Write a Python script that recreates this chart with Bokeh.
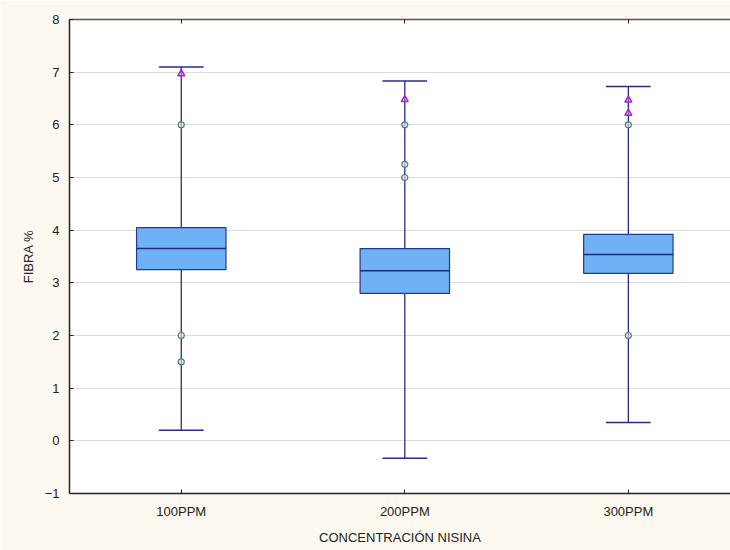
from bokeh.plotting import figure
from bokeh.models import Range1d, FixedTicker, LinearAxis
from bokeh.embed import file_html
from bokeh.resources import INLINE

# Box-plot statistics for fibre content per nisin concentration
categories = ["100PPM", "200PPM", "300PPM"]
whisker_low = [0.20, -0.33, 0.35]
q1 = [3.25, 2.80, 3.18]
median = [3.65, 3.23, 3.54]
q3 = [4.05, 3.65, 3.92]
whisker_high = [7.10, 6.83, 6.73]
outliers = [[6.0, 2.0, 1.5], [6.0, 5.25, 5.0], [6.0, 2.0]]
extremes = [[6.97], [6.48], [6.47, 6.22]]
y_ticks = [-1, 0, 1, 2, 3, 4, 5, 6, 7, 8]

xs = [i + 0.5 for i in range(len(categories))]
box_w = 0.40
cap_w = 0.20

p = figure(width=730, height=550, output_backend="svg", toolbar_location=None,
           x_range=Range1d(0, 2.957), y_range=Range1d(-1, 8),
           min_border_left=69, min_border_right=0, min_border_top=19,
           min_border_bottom=57)
p.background_fill_color = "white"
p.border_fill_color = "#fdf9f0"
p.outline_line_color = None

FONT = "Liberation Sans"

# axes
p.xaxis.ticker = FixedTicker(ticks=xs)
p.xaxis.major_label_overrides = {x: c for x, c in zip(xs, categories)}
p.yaxis.ticker = FixedTicker(ticks=y_ticks)
for ax in (p.xaxis[0], p.yaxis[0]):
    ax.axis_line_color = "#222222"
    ax.axis_line_width = 1.5
    ax.major_tick_in = 4
    ax.major_tick_out = 0
    ax.major_tick_line_color = "#222222"
    ax.minor_tick_line_color = None
    ax.major_label_text_font = FONT
    ax.major_label_text_font_size = "13px"
    ax.major_label_text_color = "#222222"
    ax.axis_label_text_font = FONT
    ax.axis_label_text_font_size = "13px"
    ax.axis_label_text_font_style = "normal"
    ax.axis_label_text_color = "#222222"
p.xaxis.axis_label = "CONCENTRACIÓN NISINA"
p.yaxis.axis_label = "FIBRA %"
p.xaxis.major_label_standoff = 10
p.xaxis.axis_label_standoff = 8
p.yaxis.major_label_standoff = 10
p.yaxis.axis_label_standoff = 6

top_axis = LinearAxis(ticker=FixedTicker(ticks=xs), major_label_text_font_size="0px",
                      major_tick_in=4, major_tick_out=0, minor_tick_line_color=None,
                      axis_line_color="#555555", axis_line_width=1.5,
                      major_tick_line_color="#222222")
top_axis.major_label_overrides = {x: "" for x in xs}
p.add_layout(top_axis, "above")

p.xgrid.grid_line_color = None
p.ygrid.grid_line_color = "#dcdcdc"
p.ygrid.grid_line_width = 1

LINE = "#2b2b8c"

# whiskers and caps
p.segment(x0=xs, y0=whisker_low, x1=xs, y1=whisker_high, line_color=LINE, line_width=1.3)
p.segment(x0=[x - cap_w / 2 for x in xs], y0=whisker_low,
          x1=[x + cap_w / 2 for x in xs], y1=whisker_low, line_color=LINE, line_width=1.5)
p.segment(x0=[x - cap_w / 2 for x in xs], y0=whisker_high,
          x1=[x + cap_w / 2 for x in xs], y1=whisker_high, line_color=LINE, line_width=1.5)

# boxes and medians
p.vbar(x=xs, width=box_w, bottom=q1, top=q3, fill_color="#6fb1f7",
       line_color="#253a86", line_width=1.2)
p.segment(x0=[x - box_w / 2 for x in xs], y0=median,
          x1=[x + box_w / 2 for x in xs], y1=median, line_color="#1d2a80", line_width=1.5)

# outliers and extremes
ox, oy = [], []
for x, vals in zip(xs, outliers):
    ox += [x] * len(vals)
    oy += vals
ex, ey = [], []
for x, vals in zip(xs, extremes):
    ex += [x] * len(vals)
    ey += vals
p.scatter(ox, oy, marker="circle", size=6, fill_color="#e8f0ee", fill_alpha=0.6,
          line_color="#4d7d72", line_width=1.2)
p.scatter(ex, ey, marker="triangle", size=7, fill_color="#e0b0f0", fill_alpha=0.4,
          line_color="#b01fd0", line_width=1.5)

open("out.html", "w").write(file_html(p, INLINE))
